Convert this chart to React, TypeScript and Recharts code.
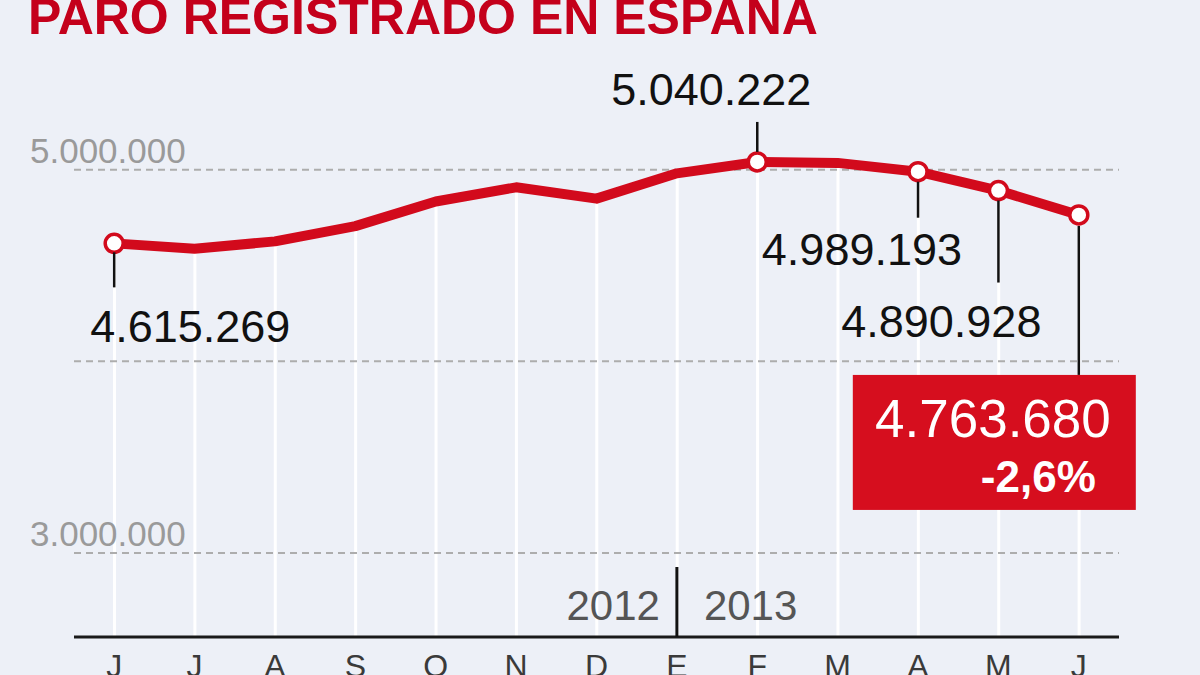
import { ComposedChart, Bar, Line, XAxis, YAxis, ReferenceLine, LabelList } from 'recharts';

// Paro registrado, junio 2012 - junio 2013
const periods = ['2012-06', '2012-07', '2012-08', '2012-09', '2012-10', '2012-11', '2012-12', '2013-01', '2013-02', '2013-03', '2013-04', '2013-05', '2013-06'];
const months = ['J', 'J', 'A', 'S', 'O', 'N', 'D', 'E', 'F', 'M', 'A', 'M', 'J'];
const parados = [4615269, 4587455, 4625634, 4705279, 4833521, 4907817, 4848723, 4980778, 5040222, 5035243, 4989193, 4890928, 4763680];

const gridValues = [5000000, 4000000, 3000000];
const gridLabels = ['5.000.000', '', '3.000.000'];
const yearLabels = ['2012', '2013'];
const yearBreak = '2013-01';
const markedIdx = [0, 8, 10, 11, 12];
const lastChange = '-2,6%';

const data = periods.map((p, i) => ({ period: p, month: months[i], value: parados[i] }));

const RED = '#d20a1c';
const FONT = '"Liberation Sans", Arial, Helvetica, sans-serif';

const fmt = (v: number) => String(v).replace(/\B(?=(\d{3})+(?!\d))/g, '.');

// callout layout, relative to the point
const callouts: Record<number, { from: number; to: number; tx: number; ty: number; anchor: 'start' | 'middle' | 'end' }> = {
  0: { from: 9, to: 44, tx: -24, ty: 99, anchor: 'start' },
  8: { from: -10, to: -40, tx: -46, ty: -57, anchor: 'middle' },
  10: { from: 10, to: 46, tx: 44, ty: 93, anchor: 'end' },
  11: { from: 10, to: 92, tx: 43, ty: 146, anchor: 'end' },
};

const renderDot = (props: any) => {
  const { cx, cy, index } = props;
  if (!markedIdx.includes(index)) return <g key={`d${index}`} />;
  return <circle key={`d${index}`} cx={cx} cy={cy} r={9} fill="#fff" stroke={RED} strokeWidth={3.5} />;
};

const renderCallout = (props: any) => {
  const { x, y, value, index } = props;
  if (index === periods.length - 1) {
    const top = y + 160;
    return (
      <g>
        <line x1={x} x2={x} y1={y + 11} y2={top} stroke="#111" strokeWidth={2.5} />
        <rect x={x - 226} y={top} width={283} height={135} fill="#d60e1e" />
        <text x={x + 32} y={y + 222} textAnchor="end" fill="#fff" fontSize={53} fontFamily={FONT}>{fmt(value)}</text>
        <text x={x + 17} y={y + 277} textAnchor="end" fill="#fff" fontSize={44} fontWeight="bold" fontFamily={FONT}>{lastChange}</text>
      </g>
    );
  }
  const c = callouts[index];
  if (!c) return null;
  return (
    <g>
      <line x1={x} x2={x} y1={y + c.from} y2={y + c.to} stroke="#111" strokeWidth={2.5} />
      <text x={x + c.tx} y={y + c.ty} textAnchor={c.anchor} fill="#111" fontSize={45} fontFamily={FONT}>{fmt(value)}</text>
    </g>
  );
};

const MonthTick = (props: any) => {
  const { x, y, payload, index } = props;
  const isBreak = payload.value === yearBreak;
  return (
    <g>
      {isBreak && (
        <g>
          <line x1={x} x2={x} y1={y - 70} y2={y} stroke="#111" strokeWidth={3} />
          <text x={x - 17} y={y - 17} textAnchor="end" fill="#555" fontSize={42} fontFamily={FONT}>{yearLabels[0]}</text>
          <text x={x + 27} y={y - 17} textAnchor="start" fill="#555" fontSize={42} fontFamily={FONT}>{yearLabels[1]}</text>
        </g>
      )}
      <text x={x} y={y + 40} textAnchor="middle" fill="#3a3a3a" fontSize={32} fontFamily={FONT}>{months[index]}</text>
    </g>
  );
};

export default function App() {
  return (
    <div style={{ position: 'absolute', left: 0, top: 0, width: 1200, height: 675, background: '#edf0f7', overflow: 'hidden', fontFamily: FONT }}>
      <div style={{ position: 'absolute', left: 28, top: -12, color: '#c4001b', fontSize: 50, fontWeight: 700, lineHeight: '58px', whiteSpace: 'nowrap' }}>
        PARO REGISTRADO EN ESPAÑA
      </div>
      <ComposedChart width={1200} height={675} data={data} margin={{ top: 93, right: 81, bottom: 0, left: 74 }} style={{ position: 'absolute', left: 0, top: 0 }}>
        <YAxis hide domain={[2561000, 5400000]} />
        <XAxis dataKey="period" height={38} interval={0} tickLine={false} tickSize={0} tickMargin={0}
          axisLine={{ stroke: '#1a1a1a', strokeWidth: 3 }} tick={<MonthTick />} />
        {gridValues.map((g, i) => (
          <ReferenceLine key={g} y={g} stroke="#adadad" strokeWidth={2} strokeDasharray="7 5"
            label={(p: any) => gridLabels[i] ? (
              <text x={30} y={p.viewBox.y - 7} fill="#9a9a9a" fontSize={35} fontFamily={FONT}>{gridLabels[i]}</text>
            ) : null} />
        ))}
        <Bar dataKey="value" barSize={3} fill="#ffffff" isAnimationActive={false} />
        <Line type="linear" dataKey="value" stroke={RED} strokeWidth={10} strokeLinejoin="round"
          dot={renderDot} activeDot={false} isAnimationActive={false}>
          <LabelList dataKey="value" content={renderCallout} />
        </Line>
      </ComposedChart>
    </div>
  );
}
